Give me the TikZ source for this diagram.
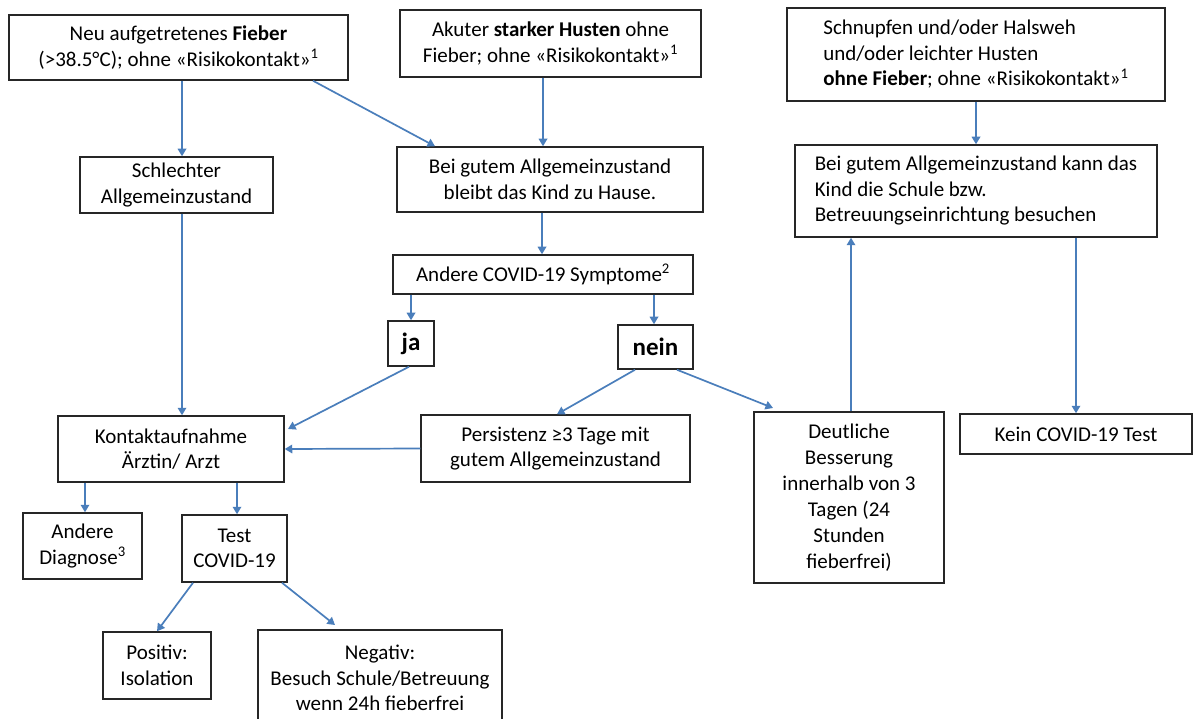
\documentclass[tikz,border=0pt]{standalone}
\usepackage{fontspec}
\setmainfont{Carlito}
\usetikzlibrary{arrows.meta}
\definecolor{arrblue}{HTML}{4A7EBB}
\begin{document}
\begin{tikzpicture}[x=1pt,y=-1pt,
  box/.style={draw=black!85, line width=1.5pt, inner sep=0pt, align=center,
    font=\fontsize{21}{25.5}\selectfont},
  lbox/.style={box, align=left},
  yn/.style={box, font=\fontsize{25}{28}\selectfont\bfseries},
  arr/.style={draw=arrblue, line width=1.7pt, -{Triangle[width=8.5pt,length=7.5pt]}}]
\useasboundingbox (0,0) rectangle (1194,719);
\fill[white] (0,0) rectangle (1194,719);

\node[box, minimum width=339pt, minimum height=65pt] (A) at (178.5,47.5)
  {Neu aufgetretenes \textbf{Fieber}\\(>38.5°C); ohne «Risikokontakt»\textsuperscript{1}};
\node[box, minimum width=193pt, minimum height=56pt] (B) at (176.5,185)
  {Schlechter\\Allgemeinzustand};
\node[box, minimum width=301pt, minimum height=67pt] (C) at (550.5,43.5)
  {Akuter \textbf{starker Husten} ohne\\Fieber; ohne «Risikokontakt»\textsuperscript{1}};
\node[box, minimum width=306pt, minimum height=65pt] (D) at (550,179.5)
  {Bei gutem Allgemeinzustand\\bleibt das Kind zu Hause.};
\node[lbox, minimum width=378pt, minimum height=93pt] (E) at (976,54.5)
  {Schnupfen und/oder Halsweh\\und/oder leichter Husten\\\textbf{ohne Fieber}; ohne «Risikokontakt»\textsuperscript{1}};
\node[lbox, minimum width=362pt, minimum height=92pt] (F) at (976,191)
  {Bei gutem Allgemeinzustand kann das\\Kind die Schule bzw.\\Betreuungseinrichtung besuchen};
\node[box, minimum width=300pt, minimum height=39pt] (G) at (543,274.5)
  {Andere COVID-19 Symptome\textsuperscript{2}};
\node[yn, minimum width=46pt, minimum height=45pt] (ja) at (411,343.5) {ja};
\node[yn, minimum width=75pt, minimum height=44pt] (nein) at (655.5,347) {nein};
\node[box, minimum width=269pt, minimum height=67pt] (H) at (555.5,448.5)
  {Persistenz ≥3 Tage mit\\gutem Allgemeinzustand};
\node[box, minimum width=226pt, minimum height=66pt] (K) at (171,449)
  {Kontaktaufnahme\\Ärztin/ Arzt};
\node[box, minimum width=190pt, minimum height=171pt, font=\fontsize{21}{26}\selectfont] (I) at (849,497.5)
  {Deutliche\\Besserung\\innerhalb von 3\\Tagen (24\\Stunden\\fieberfrei)};
\node[box, minimum width=232pt, minimum height=40pt] (J) at (1076,434)
  {Kein COVID-19 Test};
\node[box, minimum width=119pt, minimum height=66pt] (L) at (82.5,546)
  {Andere\\Diagnose\textsuperscript{3}};
\node[box, minimum width=105pt, minimum height=67pt] (M) at (234.5,548.5)
  {Test\\COVID-19};
\node[box, minimum width=108pt, minimum height=67pt] (N) at (157,665.5)
  {Positiv:\\Isolation};
\node[box, minimum width=244pt, minimum height=96pt] (O) at (380,678)
  {Negativ:\\Besuch Schule/Betreuung\\wenn 24h fieberfrei};

% helper coordinates
\coordinate (x182) at (182,0);
\coordinate (x313) at (313,0);
\coordinate (x435) at (435,0);
\coordinate (x543) at (543,0);
\coordinate (x542) at (542,0);
\coordinate (x411) at (411,0);
\coordinate (x409) at (409,0);
\coordinate (x654) at (654,0);
\coordinate (x635) at (635,0);
\coordinate (x557) at (557,0);
\coordinate (x677) at (677,0);
\coordinate (x851) at (851,0);
\coordinate (x976) at (976,0);
\coordinate (x1076) at (1076,0);
\coordinate (x85) at (85,0);
\coordinate (x237) at (237,0);
\coordinate (x193) at (193,0);
\coordinate (x157) at (157,0);
\coordinate (x282) at (282,0);
\coordinate (jaK) at (288,429);
\coordinate (neinI) at (773,408);
\coordinate (MO) at (335,625);

\draw[arr] (A.south -| x182) -- (B.north -| x182);
\draw[arr] (A.south -| x313) -- (D.north -| x435);
\draw[arr] (C.south -| x543) -- (D.north -| x543);
\draw[arr] (D.south -| x542) -- (G.north -| x542);
\draw[arr] (G.south -| x411) -- (ja.north -| x411);
\draw[arr] (G.south -| x654) -- (nein.north -| x654);
\draw[arr] (ja.south -| x409) -- (jaK);
\draw[arr] (H.west) -- (K.east);
\draw[arr] (nein.south -| x635) -- (H.north -| x557);
\draw[arr] (nein.south -| x677) -- (neinI);
\draw[arr] (I.north -| x851) -- (F.south -| x851);
\draw[arr] (E.south -| x976) -- (F.north -| x976);
\draw[arr] (F.south -| x1076) -- (J.north -| x1076);
\draw[arr] (B.south -| x182) -- (K.north -| x182);
\draw[arr] (K.south -| x85) -- (L.north -| x85);
\draw[arr] (K.south -| x237) -- (M.north -| x237);
\draw[arr] (M.south -| x193) -- (N.north -| x157);
\draw[arr] (M.south -| x282) -- (MO);
\end{tikzpicture}
\end{document}
